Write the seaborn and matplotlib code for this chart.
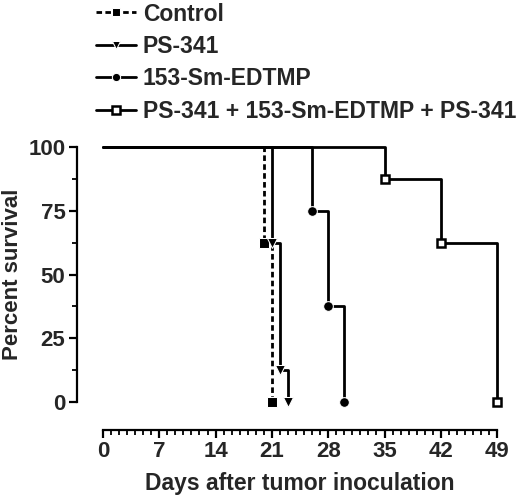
import seaborn as sns
import matplotlib.pyplot as plt
from matplotlib.ticker import MultipleLocator

# survival data (day, percent survival)
control_days = [0, 20, 21]
control_surv = [100, 62.5, 0]
ps341_days = [0, 21, 22, 23]
ps341_surv = [100, 62.5, 12.5, 0]
sm_days = [0, 26, 28, 30]
sm_surv = [100, 75, 37.5, 0]
combo_days = [0, 35, 42, 49]
combo_surv = [100, 87.5, 62.5, 0]

labels = ['Control', 'PS-341', '153-Sm-EDTMP', 'PS-341 + 153-Sm-EDTMP + PS-341']

sns.set_style('ticks')
plt.rcParams['font.family'] = ['Liberation Sans', 'DejaVu Sans']
plt.rcParams['font.weight'] = 'bold'

fig = plt.figure(figsize=(5.2, 4.97), dpi=100)
ax = fig.add_axes([0.198, 0.191, 0.758, 0.513])

lw = 2
sns.lineplot(x=control_days, y=control_surv, ax=ax, drawstyle='steps-post', color='black',
             linewidth=lw, linestyle=(0, (2, 1.2)), marker='s', markersize=6.5, markevery=[1, 2],
             label=labels[0], clip_on=False)
sns.lineplot(x=ps341_days, y=ps341_surv, ax=ax, drawstyle='steps-post', color='black',
             linewidth=lw, marker='v', markersize=7, markevery=[1, 2, 3],
             label=labels[1], clip_on=False)
sns.lineplot(x=sm_days, y=sm_surv, ax=ax, drawstyle='steps-post', color='black',
             linewidth=lw, marker='o', markersize=7, markevery=[1, 2, 3],
             label=labels[2], clip_on=False)
sns.lineplot(x=combo_days, y=combo_surv, ax=ax, drawstyle='steps-post', color='black',
             linewidth=lw, marker='s', markersize=6.3, markerfacecolor='white',
             markeredgecolor='black', markeredgewidth=1.8, markevery=[1, 2, 3],
             label=labels[3], clip_on=False)

ax.set_xlim(0, 49)
ax.set_ylim(0, 100)
ax.set_xticks(range(0, 50, 7))
ax.set_yticks([0, 25, 50, 75, 100])
ax.xaxis.set_minor_locator(MultipleLocator(1))
ax.yaxis.set_minor_locator(MultipleLocator(12.5))

for s in ['top', 'right']:
    ax.spines[s].set_visible(False)
ax.spines['bottom'].set_position(('outward', 20))
ax.spines['left'].set_position(('outward', 19))
for s in ['bottom', 'left']:
    ax.spines[s].set_linewidth(1.6)
    ax.spines[s].set_color('black')

ax.tick_params(axis='both', which='major', length=6, width=1.6, labelsize=16, color='black', pad=2)
ax.tick_params(axis='both', which='minor', length=3.5, width=1.3, color='black')
for t in ax.get_xticklabels() + ax.get_yticklabels():
    t.set_fontweight('bold')

ax.set_xlabel('Days after tumor inoculation', fontsize=16.5, fontweight='bold', labelpad=7.5)
ax.set_ylabel('Percent survival', fontsize=16, fontweight='bold')
ax.yaxis.set_label_coords(-0.202, 0.5)

leg = ax.legend(loc='upper left', bbox_to_anchor=(0.162, 1.018), bbox_transform=fig.transFigure,
                frameon=False, fontsize=16.5, handlelength=1.75, labelspacing=0.41,
                handletextpad=0.3, borderpad=0, markerscale=0.85)
for t in leg.get_texts():
    t.set_fontweight('bold')

fig.savefig('out.png', dpi=100)
